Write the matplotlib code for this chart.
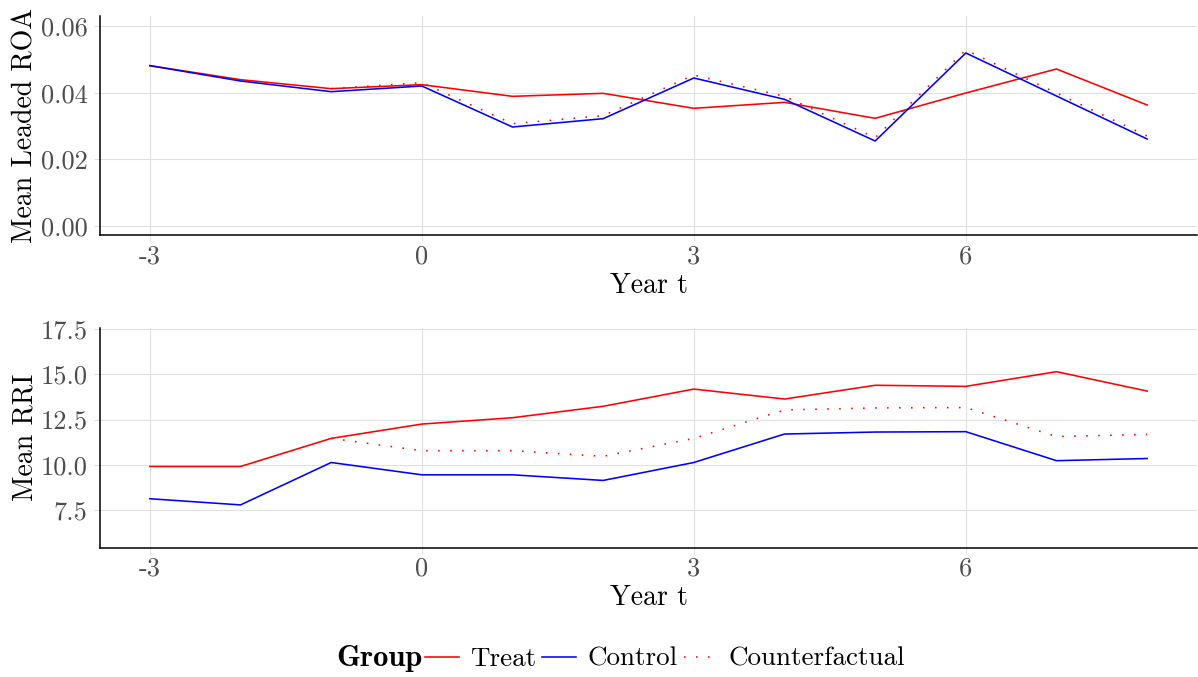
import matplotlib
matplotlib.use("Agg")
import matplotlib.pyplot as plt
from matplotlib.lines import Line2D

plt.rcParams['font.family'] = ['cmr10', 'DejaVu Serif']
plt.rcParams['axes.unicode_minus'] = False
plt.rcParams['mathtext.fontset'] = 'cm'

years = [-3, -2, -1, 0, 1, 2, 3, 4, 5, 6, 7, 8]
cf_years = [-1, 0, 1, 2, 3, 4, 5, 6, 7, 8]

roa_treat = [0.0481, 0.0439, 0.0412, 0.0424, 0.0389, 0.0398, 0.0353, 0.0371, 0.0323, 0.0399, 0.0471, 0.0363]
roa_control = [0.0481, 0.0435, 0.0403, 0.0420, 0.0297, 0.0322, 0.0444, 0.0380, 0.0255, 0.0519, 0.0390, 0.0261]
roa_cf = [0.0412, 0.0430, 0.0307, 0.0331, 0.0453, 0.0389, 0.0265, 0.0528, 0.0399, 0.0270]

rri_treat = [9.91, 9.91, 11.46, 12.25, 12.60, 13.23, 14.18, 13.63, 14.39, 14.33, 15.14, 14.07]
rri_control = [8.13, 7.79, 10.13, 9.45, 9.45, 9.14, 10.13, 11.70, 11.81, 11.83, 10.23, 10.35]
rri_cf = [11.46, 10.78, 10.78, 10.47, 11.46, 13.03, 13.14, 13.16, 11.56, 11.68]

x_ticks = [-3, 0, 3, 6]
x_ticklabels = ['-3', '0', '3', '6']
roa_ticks = [0.00, 0.02, 0.04, 0.06]
roa_ticklabels = ['0.00', '0.02', '0.04', '0.06']
rri_ticks = [7.5, 10.0, 12.5, 15.0, 17.5]
rri_ticklabels = ['7.5', '10.0', '12.5', '15.0', '17.5']

W, H = 1198, 677
fig = plt.figure(figsize=(W / 100, H / 100), dpi=100)

RED = '#FF0000'
BLUE = '#0000FF'
GRID = '#e0e0e0'
TICKC = '#4d4d4d'
LW = 1.15
DOT = (0, (1, 6.5))
TICK_FS = 19
LAB_FS = 20
LEG_FS = 19.5

ax1 = fig.add_axes([100 / W, 1 - 235 / H, 1097 / W, 219 / H])
ax2 = fig.add_axes([100 / W, 1 - 547.5 / H, 1097 / W, 219.5 / H])


def style(ax, yticks, ylabels, ylabel):
    for s in ['top', 'right']:
        ax.spines[s].set_visible(False)
    for s in ['left', 'bottom']:
        ax.spines[s].set_color('black')
        ax.spines[s].set_linewidth(1.1)
    ax.set_xticks(x_ticks)
    ax.set_xticklabels(x_ticklabels)
    ax.set_yticks(yticks)
    ax.set_yticklabels(ylabels)
    ax.tick_params(axis='both', length=4.3, width=0.8, color=GRID,
                   labelcolor=TICKC, labelsize=TICK_FS)
    ax.tick_params(axis='x', pad=2.5)
    ax.tick_params(axis='y', pad=4.5)
    ax.grid(True, color=GRID, linewidth=0.8)
    ax.set_axisbelow(True)
    ax.set_xlim(-3.55, 8.55)
    ax.set_xlabel('Year t', fontsize=LAB_FS, labelpad=3)
    ax.set_ylabel(ylabel, fontsize=LAB_FS, labelpad=1.5)


ax1.plot(years, roa_treat, color=RED, lw=LW)
ax1.plot(years, roa_control, color=BLUE, lw=LW)
ax1.plot(cf_years, roa_cf, color=RED, lw=LW, linestyle=DOT)
style(ax1, roa_ticks, roa_ticklabels, 'Mean Leaded ROA')
ax1.set_ylim(-0.0027, 0.0630)

ax2.plot(years, rri_treat, color=RED, lw=LW)
ax2.plot(years, rri_control, color=BLUE, lw=LW)
ax2.plot(cf_years, rri_cf, color=RED, lw=LW, linestyle=DOT)
style(ax2, rri_ticks, rri_ticklabels, 'Mean RRI')
ax2.set_ylim(5.44, 17.55)

handles = [Line2D([], [], color=RED, lw=LW),
           Line2D([], [], color=BLUE, lw=LW),
           Line2D([], [], color=RED, lw=LW, linestyle=DOT)]
fig.text(423 / W, 1 - 659 / H, 'Group', fontsize=22, family=['cmb10', 'DejaVu Serif'],
         ha='right', va='center')
fig.legend(handles, ['Treat', 'Control', 'Counterfactual'], ncol=3,
           loc='center left', bbox_to_anchor=(425 / W, 1 - 659 / H),
           frameon=False, fontsize=LEG_FS, handlelength=1.25,
           handletextpad=0.42, columnspacing=0.22, borderpad=0, borderaxespad=0)

fig.savefig('out.png', dpi=100)
